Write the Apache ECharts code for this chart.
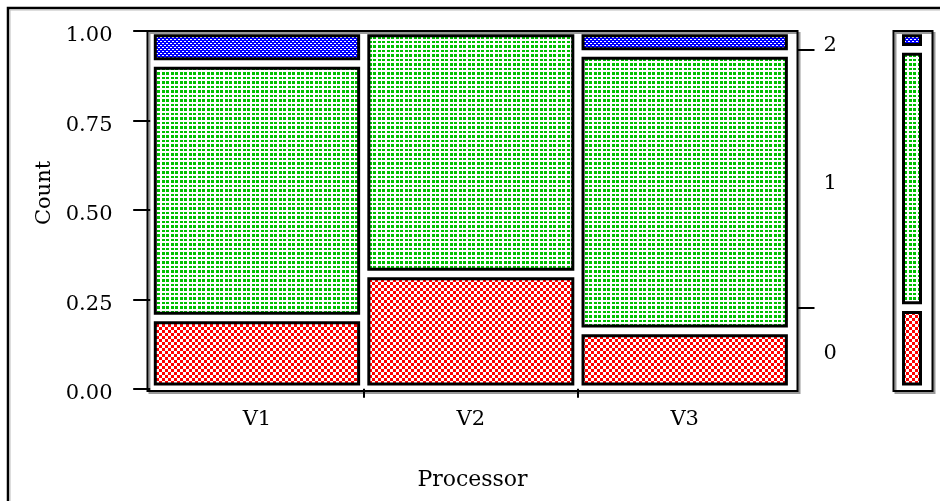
<!DOCTYPE html>
<html>
	<head>
		<meta charset="utf-8" />
		<title></title>
		<script src="https://cdn.jsdelivr.net/npm/echarts@6/dist/echarts.min.js" type="text/javascript" charset="utf-8"></script>
		<style type="text/css">
			html, body { margin: 0; padding: 0; background: #fff; }
			#chart { width: 940px; height: 501px; }
		</style>
	</head>
	<body>
		<div id="chart"></div>
		<script type="text/javascript">
			// processors on x, share of each count level inside a processor
			var processors = ['V1', 'V2', 'V3'];
			var levels = ['0', '1', '2'];
			var colWidths = [0.333, 0.334, 0.333];
			var share0 = [0.198, 0.321, 0.162];
			var share1 = [0.711, 0.679, 0.775];
			var share2 = [0.091, 0.000, 0.063];
			var yTicks = [0, 0.25, 0.5, 0.75, 1];

			var shares = [share0, share1, share2];
			var FONT = 'DejaVu Serif';

			// fill patterns
			function tile(w, h, bg, fg, rects) {
				var c = document.createElement('canvas');
				c.width = w; c.height = h;
				var ctx = c.getContext('2d');
				ctx.fillStyle = bg;
				ctx.fillRect(0, 0, w, h);
				ctx.fillStyle = fg;
				for (var i = 0; i < rects.length; i++) {
					ctx.fillRect(rects[i][0], rects[i][1], rects[i][2], rects[i][3]);
				}
				return { image: c, repeat: 'repeat' };
			}
			var patterns = [
				tile(6, 6, '#fff', '#ff0000', [[0, 0, 3, 3], [3, 3, 3, 3]]),
				tile(9, 9, '#fff', '#00c000', [[0, 0, 3, 3], [4, 0, 3, 3], [0, 5, 3, 2], [4, 5, 3, 2]]),
				tile(4, 4, '#0000ff', '#fff', [[0, 1, 2, 1], [2, 3, 2, 1]])
			];

			// mosaic cells [x0, x1, y0, y1, level]
			var cells = [];
			var colBounds = [];
			var colMids = [];
			var x = 0;
			for (var i = 0; i < processors.length; i++) {
				var y = 0;
				for (var k = 0; k < levels.length; k++) {
					cells.push([x, x + colWidths[i], y, y + shares[k][i], k]);
					y += shares[k][i];
				}
				colMids.push(x + colWidths[i] / 2);
				x += colWidths[i];
				if (i < processors.length - 1) colBounds.push(x);
			}

			// marginal shares of each level
			var margin = [];
			for (var k = 0; k < levels.length; k++) {
				var s = 0;
				for (var i = 0; i < processors.length; i++) s += colWidths[i] * shares[k][i];
				margin.push(s);
			}
			var margCells = [];
			var margBounds = [];
			var margMids = [];
			var cum = 0;
			for (var k = 0; k < levels.length; k++) {
				margCells.push([0, 1, cum, cum + margin[k], k]);
				margMids.push(cum + margin[k] / 2);
				cum += margin[k];
				if (k < levels.length - 1) margBounds.push(cum);
			}

			function makeRender(gx, gy, padL, padR) {
				return function (params, api) {
					var x0 = api.value(0), x1 = api.value(1), y0 = api.value(2), y1 = api.value(3);
					var k = api.value(4);
					if (y1 - y0 <= 0) return;
					var a = api.coord([x0, y0]);
					var b = api.coord([x1, y1]);
					var l = a[0] + (padL != null ? padL : gx) + 1.5;
					var r = b[0] - (padR != null ? padR : gx) - 1.5;
					var t = b[1] + gy + 1.5;
					var bt = a[1] - gy - 1.5;
					return {
						type: 'rect',
						shape: { x: l, y: t, width: r - l, height: bt - t },
						style: { fill: patterns[k], stroke: '#000', lineWidth: 3 }
					};
				};
			}

			function nearest(arr, v) {
				var best = 0;
				for (var i = 1; i < arr.length; i++) {
					if (Math.abs(arr[i] - v) < Math.abs(arr[best] - v)) best = i;
				}
				return best;
			}

			var frame = {
				show: true, backgroundColor: '#fff', borderColor: '#000', borderWidth: 2,
				shadowColor: '#999', shadowOffsetX: 2, shadowOffsetY: 2, shadowBlur: 0,
				outerBoundsMode: 'none'
			};

			var chart = echarts.init(document.getElementById('chart'));
			chart.setOption({
				animation: false,
				backgroundColor: '#fff',
				graphic: [
					{ type: 'rect', shape: { x: 8, y: 8, width: 1000, height: 1000 }, style: { fill: null, stroke: '#000', lineWidth: 2.5 } },
					{ type: 'rect', shape: { x: 10, y: 10, width: 1000, height: 1000 }, style: { fill: null, stroke: '#bbb', lineWidth: 1 } }
				],
				grid: [
					echarts.util.extend({ left: 147.5, right: 142.5, top: 31, bottom: 110 }, frame),
					echarts.util.extend({ left: 893.5, width: 39, top: 31, bottom: 110 }, frame)
				],
				xAxis: [
					{
						gridIndex: 0, type: 'value', min: -0.0042, max: 1.0094,
						axisLine: { show: false }, splitLine: { show: false },
						axisTick: { show: true, customValues: colBounds, length: 9, lineStyle: { color: '#000', width: 2 } },
						axisLabel: {
							customValues: colMids, margin: 18, color: '#000', fontFamily: FONT, fontSize: 21,
							formatter: function (v) { return processors[nearest(colMids, v)]; }
						},
						name: 'Processor', nameLocation: 'middle', nameGap: 78,
						nameTextStyle: { color: '#000', fontFamily: FONT, fontSize: 22 }
					},
					{ gridIndex: 1, type: 'value', min: 0, max: 1, show: false }
				],
				yAxis: [
					{
						gridIndex: 0, type: 'value', min: -0.006, max: 1, position: 'left',
						axisLine: { show: false }, splitLine: { show: false },
						axisTick: { show: true, customValues: yTicks, length: 17, lineStyle: { color: '#000', width: 2 } },
						axisLabel: {
							customValues: yTicks, margin: 35, color: '#000', fontFamily: FONT, fontSize: 21,
							verticalAlign: 'top', lineHeight: 10,
							formatter: function (v) { return v.toFixed(2); }
						},
						name: 'Count', nameLocation: 'middle', nameGap: 90,
						nameTextStyle: { color: '#000', fontFamily: FONT, fontSize: 21, padding: [0, 0, 0, 36] }
					},
					{
						gridIndex: 0, type: 'value', min: -0.006, max: 1, position: 'right',
						axisLine: { show: false }, splitLine: { show: false },
						axisTick: { show: true, customValues: margBounds, length: 17, lineStyle: { color: '#000', width: 2 } },
						axisLabel: {
							customValues: margMids, margin: 26, color: '#000', fontFamily: FONT, fontSize: 21,
							verticalAlign: 'top', lineHeight: 10,
							formatter: function (v) { return levels[nearest(margMids, v)]; }
						}
					},
					{ gridIndex: 1, type: 'value', min: -0.006, max: 1, show: false }
				],
				series: [
					{
						type: 'custom', xAxisIndex: 0, yAxisIndex: 0,
						renderItem: makeRender(3.6, 3.3),
						data: cells
					},
					{
						type: 'custom', xAxisIndex: 1, yAxisIndex: 2,
						renderItem: makeRender(0, 3.3, 8.5, 10.5),
						data: margCells
					}
				]
			});
		</script>
	</body>
</html>
